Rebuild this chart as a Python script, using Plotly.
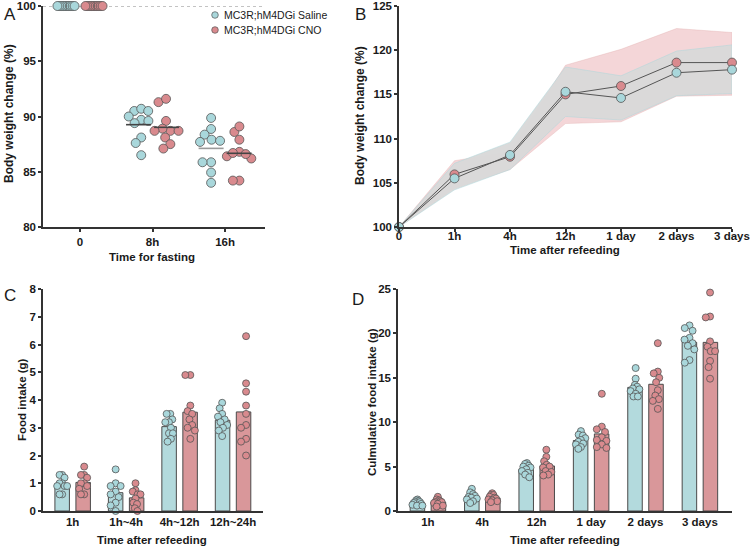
import plotly.graph_objects as go

# ---------------- DATA ----------------
# Panel A: body weight change during fasting (%)
a_cats = ["0", "8h", "16h"]
a_saline = [
    [100] * 10,
    [90.5, 90.7, 90.5, 89.7, 90.0, 89.6, 89.4, 88.1, 87.6, 86.5],
    [89.87, 88.87, 88.36, 87.9, 87.7, 87.8, 85.86, 85.86, 84.93, 84.0],
]
a_cno = [
    [100] * 10,
    [91.3, 91.6, 89.6, 88.7, 88.9, 88.7, 88.7, 88.1, 87.5, 87.1],
    [88.6, 89.1, 87.9, 86.4, 86.8, 86.2, 86.6, 86.7, 84.2, 84.2],
]

# Panel B: body weight change after refeeding (%)
b_cats = ["0", "1h", "4h", "12h", "1 day", "2 days", "3 days"]
b_sal_mean = [100, 105.5, 108.15, 115.3, 114.6, 117.45, 117.8]
b_sal_upper = [100, 107.2, 109.6, 118.1, 117.1, 119.9, 120.6]
b_sal_lower = [100, 104.2, 106.5, 112.5, 112.1, 114.85, 115.1]
b_cno_mean = [100, 105.95, 107.95, 115.0, 115.95, 118.6, 118.6]
b_cno_upper = [100, 107.5, 108.5, 118.3, 120.1, 122.45, 122.0]
b_cno_lower = [100, 104.4, 106.5, 111.7, 111.9, 114.8, 114.9]

# Panel C: food intake (g)
c_cats = ["1h", "1h~4h", "4h~12h", "12h~24h"]
c_saline = [
    [1.3, 1.3, 1.2, 1.0, 1.0, 0.9, 0.9, 0.9, 0.6, 0.6],
    [1.5, 1.0, 0.9, 0.9, 0.7, 0.6, 0.5, 0.3, 0.2, 0.0],
    [3.5, 3.5, 3.3, 3.2, 3.2, 3.0, 2.8, 2.8, 2.6, 2.5],
    [3.9, 3.7, 3.5, 3.4, 3.3, 3.2, 3.1, 3.0, 2.9, 2.7],
]
c_cno = [
    [1.6, 1.3, 1.3, 1.2, 1.0, 1.0, 0.9, 0.8, 0.6, 0.6],
    [1.0, 0.75, 0.7, 0.6, 0.6, 0.45, 0.3, 0.25, 0.1, 0.0],
    [4.9, 4.9, 3.8, 3.6, 3.5, 3.3, 3.1, 3.0, 2.9, 2.6],
    [6.3, 4.6, 4.3, 3.8, 3.5, 3.1, 3.0, 2.6, 2.5, 2.0],
]

# Panel D: cumulative food intake (g)
d_cats = ["1h", "4h", "12h", "1 day", "2 days", "3 days"]
d_saline = [
    [1.3, 1.2, 1.1, 1.0, 1.0, 0.9, 0.8, 0.7, 0.6, 0.6],
    [2.5, 2.1, 1.9, 1.7, 1.6, 1.5, 1.4, 1.3, 1.1, 0.9],
    [5.4, 5.3, 5.1, 5.0, 4.9, 4.7, 4.5, 4.3, 4.1, 3.8],
    [9.0, 8.6, 8.5, 8.2, 8.0, 7.8, 7.6, 7.5, 7.2, 7.0],
    [16.1, 14.9, 14.2, 14.0, 13.8, 13.7, 13.5, 13.2, 12.9, 12.9],
    [20.9, 20.6, 20.3, 19.5, 19.3, 18.9, 18.6, 18.2, 17.0, 16.7],
]
d_cno = [
    [1.6, 1.3, 1.2, 1.1, 1.0, 1.0, 0.9, 0.8, 0.6, 0.5],
    [2.0, 1.8, 1.8, 1.6, 1.5, 1.4, 1.3, 1.2, 1.1, 1.0],
    [6.9, 6.1, 5.6, 5.2, 5.0, 4.9, 4.5, 4.4, 4.1, 4.0],
    [13.2, 9.5, 9.2, 8.9, 8.3, 8.0, 7.9, 7.5, 7.2, 7.1],
    [18.9, 15.7, 15.5, 15.0, 14.5, 13.6, 13.0, 12.6, 12.4, 11.5],
    [24.6, 21.9, 21.8, 19.1, 18.5, 18.0, 16.9, 16.2, 14.9, 18.0],
]

series_names = ["MC3R;hM4DGi Saline", "MC3R;hM4DGi CNO"]

# ---------------- STYLE ----------------
W, H = 750, 548
FONT = "Liberation Sans, Arial, sans-serif"
TXT = "#1a1a1a"
AX = "#333333"
SAL_PT = "#A9D7DB"
CNO_PT = "#D98A8E"
SAL_BAR = "#B3DADD"
CNO_BAR = "#D9979A"
EDGE = "#555555"


def mean(v):
    return sum(v) / len(v)


def swarm(vals, ppu, d, maxhalf):
    """Deterministic beeswarm offsets (in px) for a list of values."""
    order = sorted(range(len(vals)), key=lambda i: -vals[i])
    placed = []
    offs = [0.0] * len(vals)
    for i in order:
        y = vals[i] * ppu
        cands = [0.0]
        for (py, px) in placed:
            dy = y - py
            if abs(dy) < d:
                dx = (d * d - dy * dy) ** 0.5
                cands += [px + dx, px - dx]
        cands.sort(key=lambda c: (round(abs(c), 6), c))
        for c in cands:
            if all((c - px) ** 2 + (y - py) ** 2 >= d * d - 1e-6 for py, px in placed):
                offs[i] = c
                break
        placed.append((y, offs[i]))
    m = max(abs(o) for o in offs)
    if m > maxhalf:
        offs = [o * maxhalf / m for o in offs]
        c = (max(offs) + min(offs)) / 2
        offs = [o - c for o in offs]
    return offs


def px2paper(x, y):
    return x / W, 1 - y / H


def dom(x0, x1, y0, y1):
    a, b = px2paper(x0, y1)
    c, d = px2paper(x1, y0)
    return [a, c], [b, d]


fig = go.Figure()

# Panel geometry (pixels)
A_x, A_y = dom(43, 265, 6, 227)
B_x, B_y = dom(399, 732, 6, 227)
C_x, C_y = dom(43, 263, 289, 511)
D_x, D_y = dom(398, 732, 289, 511)

A_rng = [-0.51, 2.55]
C_rng = [-0.555, 3.56]
D_rng = [-0.55, 5.59]

# ---------- Panel A ----------
A_cat_px = (A_x[1] - A_x[0]) * W / (A_rng[1] - A_rng[0])
A_ppu = (227 - 6) / 20.0
A_off = 14.0 / A_cat_px
for gi, (groups, col) in enumerate([(a_saline, SAL_PT), (a_cno, CNO_PT)]):
    sign = -1 if gi == 0 else 1
    xs, ys = [], []
    for ci, vals in enumerate(groups):
        offs = swarm(vals, A_ppu, 8.6, 9.5 if ci == 0 else 12.5)
        for v, o in zip(vals, offs):
            xs.append(ci + sign * A_off + o / A_cat_px)
            ys.append(v)
    fig.add_trace(go.Scatter(
        x=xs, y=ys, mode="markers", xaxis="x", yaxis="y", showlegend=False,
        marker=dict(size=9, color=col, line=dict(color=EDGE, width=0.8)),
        cliponaxis=False, hoverinfo="skip"))
    # mean lines
    for ci, vals in enumerate(groups):
        if ci == 0:
            continue
        m = mean(vals)
        cx = ci + sign * A_off
        hw = 12.5 / A_cat_px
        lc = "#9a9a9a" if (ci == 2 and gi == 0) else "#444444"
        fig.add_trace(go.Scatter(
            x=[cx - hw, cx + hw], y=[m, m], mode="lines", xaxis="x", yaxis="y",
            showlegend=False, line=dict(color=lc, width=1.6), hoverinfo="skip"))

# ---------- Panel B ----------
bx = list(range(len(b_cats)))
fig.add_trace(go.Scatter(
    x=bx + bx[::-1], y=b_cno_upper + b_cno_lower[::-1], fill="toself",
    fillcolor="rgba(242,207,209,0.85)", line=dict(color="rgba(225,170,172,0.6)", width=0.6),
    mode="lines", xaxis="x2", yaxis="y2", showlegend=False, hoverinfo="skip"))
fig.add_trace(go.Scatter(
    x=bx + bx[::-1], y=b_sal_upper + b_sal_lower[::-1], fill="toself",
    fillcolor="rgba(217,217,217,0.97)", line=dict(color="rgba(170,215,220,0.8)", width=0.6),
    mode="lines", xaxis="x2", yaxis="y2", showlegend=False, hoverinfo="skip"))
for mvals, col in [(b_cno_mean, CNO_PT), (b_sal_mean, SAL_PT)]:
    fig.add_trace(go.Scatter(
        x=bx, y=mvals, mode="lines+markers", xaxis="x2", yaxis="y2", showlegend=False,
        line=dict(color="#555555", width=1),
        marker=dict(size=9, color=col, line=dict(color=EDGE, width=0.8)),
        cliponaxis=False, hoverinfo="skip"))

# ---------- Panels C & D (bars + points) ----------
def bar_panel(cats, sal, cno, xa, ya, rng, dom_x, ppu):
    cat_px = (dom_x[1] - dom_x[0]) * W / (rng[1] - rng[0])
    off = 10.5 / cat_px
    bw = 14.5 / cat_px
    for gi, (groups, pcol, bcol) in enumerate([(sal, SAL_PT, SAL_BAR), (cno, CNO_PT, CNO_BAR)]):
        sign = -1 if gi == 0 else 1
        centers = [i + sign * off for i in range(len(cats))]
        fig.add_trace(go.Bar(
            x=centers, y=[mean(g) for g in groups], width=bw, xaxis=xa, yaxis=ya,
            marker=dict(color=bcol, line=dict(color="#4a4a4a", width=1)),
            showlegend=False, hoverinfo="skip"))
        xs, ys = [], []
        for ci, vals in enumerate(groups):
            offs = swarm(vals, ppu, 6.6, 5.0)
            for v, o in zip(vals, offs):
                xs.append(centers[ci] + o / cat_px)
                ys.append(v)
        fig.add_trace(go.Scatter(
            x=xs, y=ys, mode="markers", xaxis=xa, yaxis=ya, showlegend=False,
            marker=dict(size=7, color=pcol, line=dict(color=EDGE, width=0.8)),
            cliponaxis=False, hoverinfo="skip"))


bar_panel(c_cats, c_saline, c_cno, "x3", "y3", C_rng, C_x, (511 - 289) / 8.0)
bar_panel(d_cats, d_saline, d_cno, "x4", "y4", D_rng, D_x, (511 - 289) / 25.0)

# ---------------- AXES ----------------
tickfont = dict(family=FONT, size=11.5, color=TXT, weight="bold")
common = dict(showline=True, linecolor=AX, linewidth=1.5, ticks="outside", ticklen=3,
              tickwidth=1.5, tickcolor=AX, showgrid=False, zeroline=False,
              tickfont=tickfont, fixedrange=True, automargin=False,
              ticklabeloverflow="allow")
xbar = {**common, "ticks": ""}

fig.update_layout(
    xaxis=dict(domain=A_x, range=A_rng, tickvals=[0, 1, 2], ticktext=a_cats, anchor="y", **common),
    yaxis=dict(domain=A_y, range=[80, 100.001], tickvals=[80, 85, 90, 95, 100], anchor="x", **common),
    xaxis2=dict(domain=B_x, range=[0, 6], tickvals=bx, ticktext=b_cats, anchor="y2",
                ticklabelstandoff=-6, **common),
    yaxis2=dict(domain=B_y, range=[100, 125], tickvals=[100, 105, 110, 115, 120, 125], anchor="x2", **common),
    xaxis3=dict(domain=C_x, range=C_rng, tickvals=list(range(len(c_cats))), ticktext=c_cats,
                anchor="y3", ticklabelstandoff=-1, **xbar),
    yaxis3=dict(domain=C_y, range=[0, 8], tickvals=list(range(9)), anchor="x3", **common),
    xaxis4=dict(domain=D_x, range=D_rng, tickvals=list(range(len(d_cats))), ticktext=d_cats,
                anchor="y4", ticklabelstandoff=-1, **xbar),
    yaxis4=dict(domain=D_y, range=[0, 25], tickvals=[0, 5, 10, 15, 20, 25], anchor="x4", **common),
)

# dotted line at 100 in panel A
fig.add_shape(type="line", xref="x", yref="y", x0=A_rng[0], x1=A_rng[1], y0=100, y1=100,
              line=dict(color="#888888", width=1, dash="dot"), layer="below")

# ---------------- TEXT ----------------
def ann(text, x, y, size=11, bold=True, angle=0, xanchor="center"):
    px, py = px2paper(x, y)
    fig.add_annotation(
        text=text, x=px, y=py, xref="paper", yref="paper", showarrow=False,
        xanchor=xanchor, yanchor="middle", textangle=angle,
        font=dict(family=FONT, size=size, color=TXT, weight="bold" if bold else "normal"))


ann("A", 10, 15, size=17, bold=False)
ann("B", 360, 15, size=17, bold=False)
ann("C", 10, 295, size=17, bold=False)
ann("D", 358, 299, size=17, bold=False)

ann("Body weight change (%)", 9, 114, size=12, angle=-90)
ann("Body weight change (%)", 360, 116, size=12, angle=-90)
ann("Food intake (g)", 22, 400, size=11.5, angle=-90)
ann("Culmulative food intake (g)", 372, 402, size=11.5, angle=-90)

ann("Time for fasting", 152, 257, size=11.5)
ann("Time after refeeding", 565, 250, size=11.5)
ann("Time after refeeding", 152, 540, size=11.5)
ann("Time after refeeding", 565, 540, size=11.5)

# legend (drawn inside panel A)
for i, (name, col) in enumerate(zip(series_names, [SAL_PT, CNO_PT])):
    ly = 15 + 15 * i
    cx, cy = px2paper(215, ly)
    r = 3.3
    fig.add_shape(type="circle", xref="paper", yref="paper",
                  x0=cx - r / W, x1=cx + r / W, y0=cy - r / H, y1=cy + r / H,
                  fillcolor=col, line=dict(color=EDGE, width=0.7))
    ann(name, 222, ly, size=10.5, bold=False, xanchor="left")

fig.update_layout(
    width=W, height=H, margin=dict(l=0, r=0, t=0, b=0, autoexpand=False),
    paper_bgcolor="white", plot_bgcolor="white",
    font=dict(family=FONT, color=TXT),
    barmode="overlay", showlegend=False,
)

fig.write_html("out.html", config={"displayModeBar": False},
               post_script="document.body.style.margin='0px';")
